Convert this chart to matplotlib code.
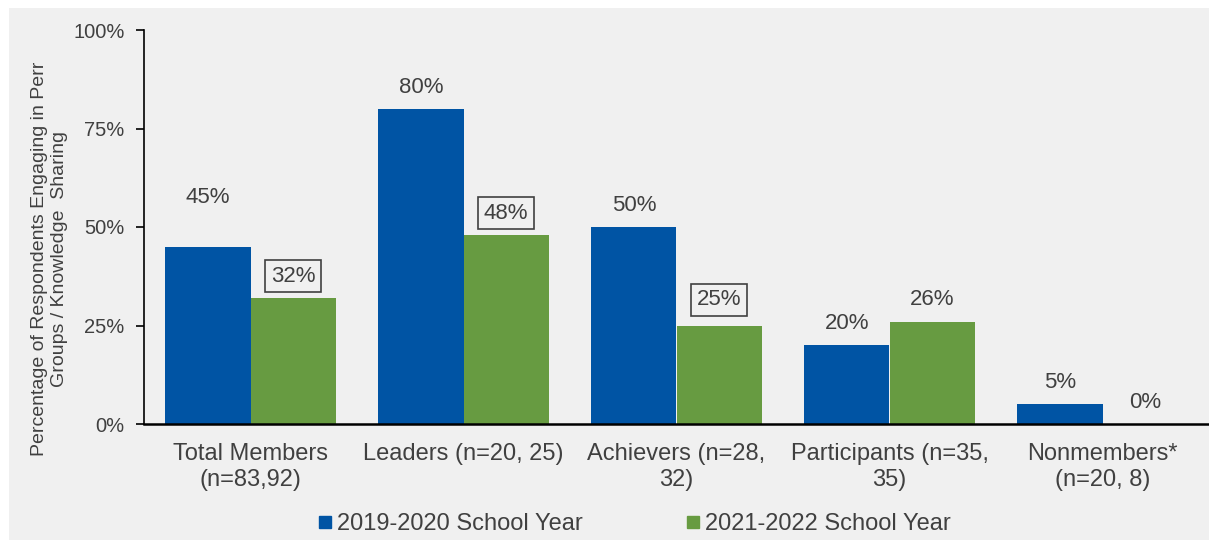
import matplotlib.pyplot as plt
from matplotlib.lines import Line2D
from matplotlib.patches import Rectangle
import numpy as np

plt.rcParams['font.family'] = ['Liberation Sans', 'DejaVu Sans']

categories = ["Total Members\n(n=83,92)", "Leaders (n=20, 25)", "Achievers (n=28,\n32)",
              "Participants (n=35,\n35)", "Nonmembers*\n(n=20, 8)"]
series_names = ["2019-2020 School Year", "2021-2022 School Year"]
year_2019 = [45, 80, 50, 20, 5]
year_2021 = [32, 48, 25, 26, 0]
# labels drawn with an outline box (2021-2022 series)
boxed_2021 = [True, True, True, False, False]
# how far each label sits above its bar (axis units)
lift_2019 = [0.125, 0.055, 0.055, 0.055, 0.055]
lift_2021 = [0.055, 0.055, 0.065, 0.055, 0.055]

blue = "#0054A4"
green = "#679B41"
text_col = "#404040"
panel = "#F0F0F0"

fig = plt.figure(figsize=(12.09, 5.4), dpi=100)
fig.patch.set_facecolor("white")
fig.patches.append(Rectangle((9 / 1209, 0), 1, 1 - 8 / 540, transform=fig.transFigure,
                             facecolor=panel, edgecolor="none", zorder=-10))

ax = fig.add_axes([144 / 1209, 1 - 424 / 540, 1 - 144 / 1209, 394 / 540])
ax.set_facecolor("none")

x = np.arange(len(categories))
w = 0.4
ax.bar(x - w / 2, np.array(year_2019) / 100, w, color=blue)
ax.bar(x + w / 2, np.array(year_2021) / 100, w, color=green)

for xi, v, lift in zip(x, year_2019, lift_2019):
    ax.text(xi - w / 2, v / 100 + lift, f"{v}%", ha="center", va="center",
            fontsize=16, color=text_col)
for xi, v, boxed, lift in zip(x, year_2021, boxed_2021, lift_2021):
    bbox = dict(boxstyle="square,pad=0.25", facecolor="none", edgecolor=text_col, lw=1.2) if boxed else None
    ax.text(xi + w / 2, v / 100 + lift, f"{v}%", ha="center", va="center",
            fontsize=16, color=text_col, bbox=bbox)

ax.set_xlim(-0.5, 4.5)
ax.set_ylim(0, 1)
ax.set_yticks([0, 0.25, 0.5, 0.75, 1.0])
ax.set_yticklabels(["0%", "25%", "50%", "75%", "100%"])
ax.set_xticks(x)
ax.set_xticklabels(categories, linespacing=1.2)
ax.tick_params(axis="y", direction="out", length=6, width=1.2, colors="black",
               labelcolor=text_col, labelsize=14.5, pad=8)
ax.tick_params(axis="x", length=0, labelcolor=text_col, labelsize=17, pad=14)
for s in ["top", "right"]:
    ax.spines[s].set_visible(False)
ax.spines["left"].set_linewidth(1.2)
ax.spines["bottom"].set_linewidth(1.8)

ax.set_ylabel("Percentage of Respondents Engaging in Perr\nGroups / Knowledge  Sharing",
              fontsize=14, color=text_col, linespacing=1.25)
ax.yaxis.set_label_coords(-0.071, 0.42)

handles = [Line2D([], [], marker="s", linestyle="none", color=c, markersize=9)
           for c in (blue, green)]
fig.legend(handles, series_names, loc="center", bbox_to_anchor=(632 / 1209, 1 - 524 / 540),
           ncol=2, frameon=False, fontsize=17, handletextpad=0.0, columnspacing=4.2,
           handlelength=1.0, borderpad=0, labelcolor=text_col)

fig.savefig("out.png", dpi=100)
